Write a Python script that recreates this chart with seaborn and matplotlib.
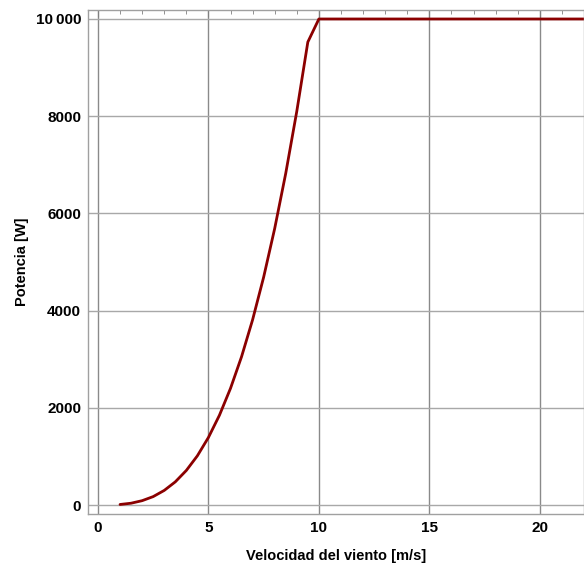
import matplotlib
matplotlib.use("Agg")
import matplotlib.pyplot as plt
import seaborn as sns
import pandas as pd
from matplotlib.ticker import MultipleLocator, FuncFormatter

wind_speed = [1, 1.5, 2, 2.5, 3, 3.5, 4, 4.5, 5, 5.5, 6, 6.5, 7, 7.5, 8, 8.5, 9, 9.5,
              10, 11, 12, 13, 14, 15, 16, 17, 18, 19, 20, 21, 22, 23, 24, 25]
power = [11, 37, 89, 173, 300, 476, 711, 1012, 1389, 1848, 2400, 3051, 3811, 4688,
         5689, 6824, 8100, 9526,
         10000, 10000, 10000, 10000, 10000, 10000, 10000, 10000, 10000, 10000,
         10000, 10000, 10000, 10000, 10000, 10000]

df = pd.DataFrame({"v": wind_speed, "P": power})

sns.set_style("white")
plt.rcParams['font.family'] = ['Liberation Sans', 'DejaVu Sans']
plt.rcParams['text.color'] = 'black'
plt.rcParams['axes.labelcolor'] = 'black'
plt.rcParams['xtick.color'] = 'black'
plt.rcParams['ytick.color'] = 'black'

fig = plt.figure(figsize=(5.84, 5.67), dpi=100)
ax = fig.add_axes([88/584, 1 - 514/567, 1 - 88/584, (514 - 10)/567])

sns.lineplot(data=df, x="v", y="P", ax=ax, color="#8B0000", linewidth=2.0)

ax.set_xlim(-0.45, 22.0)
ax.set_ylim(-185, 10185)

ax.xaxis.set_major_locator(MultipleLocator(5))
ax.xaxis.set_minor_locator(MultipleLocator(1))
ax.yaxis.set_major_locator(MultipleLocator(2000))
ax.yaxis.set_minor_locator(MultipleLocator(500))

def yfmt(val, pos):
    v = int(round(val))
    if v >= 10000:
        return f"{v:,}".replace(",", "\u2009")
    return str(v)
ax.yaxis.set_major_formatter(FuncFormatter(yfmt))

ax.grid(True, which="major", axis="x", color="#8a8a8a", linewidth=1.0)
ax.grid(True, which="major", axis="y", color="#a8a8a8", linewidth=1.0)
ax.set_axisbelow(True)

for s in ["left", "bottom", "top", "right"]:
    ax.spines[s].set_color("#a0a0a0")
    ax.spines[s].set_linewidth(1.0)

ax.tick_params(axis="both", which="major", direction="in", length=5, width=0.8,
               color="#808080", labelcolor="black", labelsize=11, pad=5, top=True, right=False)
ax.tick_params(axis="both", which="minor", direction="in", length=3, width=0.6,
               color="#808080", top=True, right=False)
for lbl in ax.get_xticklabels() + ax.get_yticklabels():
    lbl.set_fontweight("bold")

ax.set_xlabel("Velocidad del viento [m/s]", fontsize=10.5, fontweight="bold", labelpad=10)
ax.set_ylabel("Potencia [W]", fontsize=10.5, fontweight="bold")
ax.yaxis.set_label_coords(-0.119, 0.5)

fig.savefig("out.png", dpi=100)
